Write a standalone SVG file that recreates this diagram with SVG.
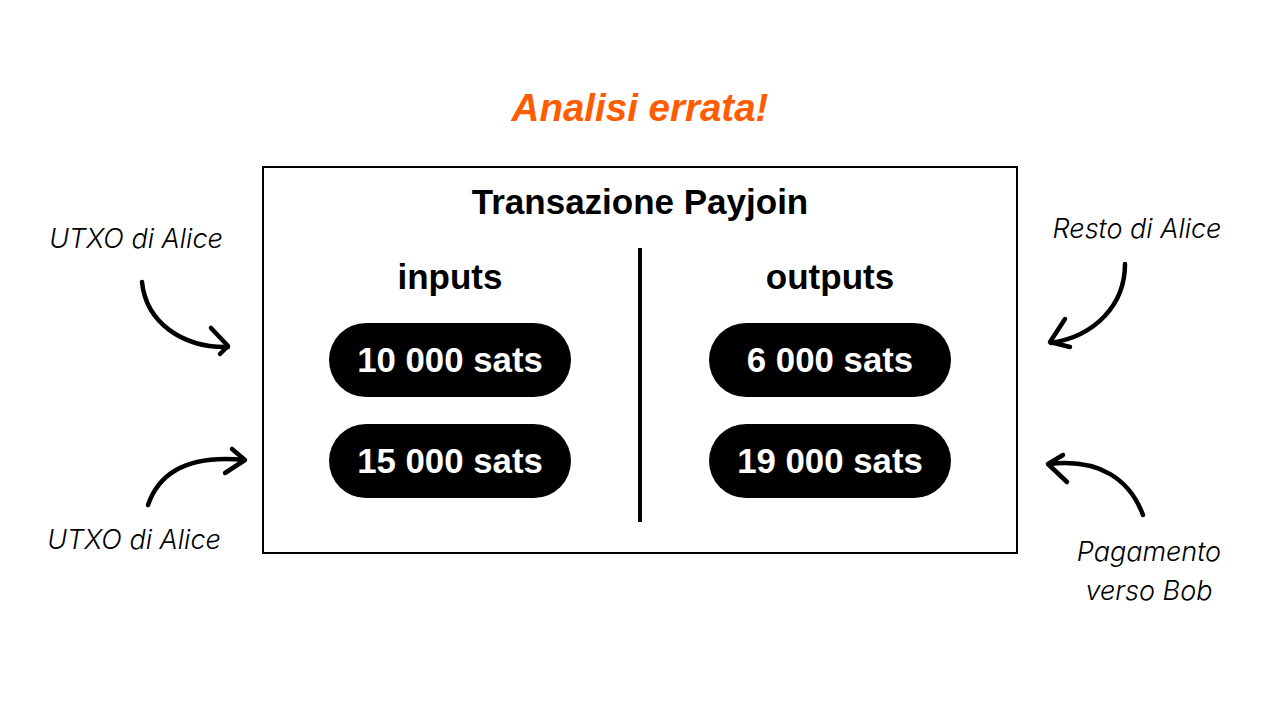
<svg xmlns="http://www.w3.org/2000/svg" width="1280" height="720" viewBox="0 0 1280 720">
<style>
.b{font-family:"Liberation Sans",Arial,sans-serif;font-weight:bold;text-anchor:middle}
.h{font-size:35px;fill:#000}
.p{font-size:34.8px;fill:#fff}
.l{font-family:Inter,"Noto Sans",sans-serif;font-style:italic;font-weight:300;font-size:27px;fill:#000;text-anchor:middle}
.pill{fill:#000}
.arr{fill:none;stroke:#000;stroke-width:4.5;stroke-linecap:round;stroke-linejoin:round}
</style>
<rect width="1280" height="720" fill="#fff"/>
<text class="b" x="640" y="121" font-size="38.5" font-style="italic" fill="#FF5C00">Analisi errata!</text>
<g id="transaction">
<rect x="263" y="167" width="754" height="386" fill="#fff" stroke="#000" stroke-width="2"/>
<text class="b h" x="640" y="214">Transazione Payjoin</text>
<line x1="640" y1="248" x2="640" y2="522" stroke="#000" stroke-width="4"/>
<text class="b h" x="450" y="289">inputs</text>
<text class="b h" x="830" y="289">outputs</text>
</g>
<g id="in1"><rect class="pill" x="329" y="323" width="242" height="74" rx="37"/><text class="b p" x="450" y="372">10 000 sats</text></g>
<g id="in2"><rect class="pill" x="329" y="424" width="242" height="74" rx="37"/><text class="b p" x="450" y="473">15 000 sats</text></g>
<g id="out1"><rect class="pill" x="709" y="323" width="242" height="74" rx="37"/><text class="b p" x="830" y="372">6 000 sats</text></g>
<g id="out2"><rect class="pill" x="709" y="424" width="242" height="74" rx="37"/><text class="b p" x="830" y="473">19 000 sats</text></g>
<g id="lbl-utxo1"><text class="l" x="136" y="248">UTXO di Alice</text></g>
<g id="lbl-utxo2"><text class="l" x="134" y="549">UTXO di Alice</text></g>
<g id="lbl-resto"><text class="l" x="1137" y="238">Resto di Alice</text></g>
<g id="lbl-pag"><text class="l" x="1149" y="561">Pagamento</text><text class="l" x="1149" y="600">verso Bob</text></g>
<g id="connectors">
<path class="arr" d="M142,282 C146,322 182,348 228,347"/>
<path class="arr" d="M211,328 L228,346 L220,354"/>
<path class="arr" d="M148,505 C160,470 192,455 244,460"/>
<path class="arr" d="M232,449 L245,460 L225,473"/>
<path class="arr" d="M1125,264 C1125,305 1095,336 1051,343"/>
<path class="arr" d="M1065,319 L1050,342 L1070,347"/>
<path class="arr" d="M1143,515 C1130,480 1100,458 1049,464"/>
<path class="arr" d="M1063,455 L1048,464 L1067,482"/>
</g>
</svg>
